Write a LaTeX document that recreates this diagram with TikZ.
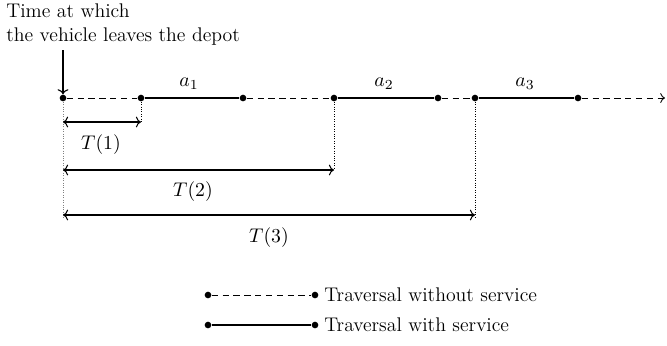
\documentclass[tikz,border=0pt]{standalone}
\usepackage{fix-cm}
\usetikzlibrary{arrows.meta}
\begin{document}
\begin{tikzpicture}[x=0.5714pt,y=-0.5714pt,
  font=\fontsize{11.3}{13.7}\selectfont,
  dot/.style={circle,fill,inner sep=0pt,minimum size=3.8pt},
  nosvc/.style={line width=0.5pt,dash pattern=on 3.6pt off 2.6pt},
  svc/.style={line width=0.7pt},
  guide/.style={densely dotted,line width=0.4pt},
  dim/.style={<->,line width=0.6pt},
  lbl/.style={inner sep=1pt}]
\useasboundingbox (0,0) rectangle (667,345);
% main line dots
\node[dot] (p0) at (63,98) {};
\node[dot] (p1) at (141,98) {};
\node[dot] (p2) at (243,98) {};
\node[dot] (p3) at (334,98) {};
\node[dot] (p4) at (438,98) {};
\node[dot] (p5) at (475,98) {};
\node[dot] (p6) at (578,98) {};
\coordinate (pend) at (665,98);
\draw[nosvc] (p0) -- (p1);
\draw[svc] (p1) -- (p2);
\draw[nosvc] (p2) -- (p3);
\draw[svc] (p3) -- (p4);
\draw[nosvc] (p4) -- (p5);
\draw[svc] (p5) -- (p6);
\draw[nosvc,->] (p6) -- (pend);
\node[lbl] (a1) at (189,84) {$a_1$};
\node[lbl] (a2) at (384,84) {$a_2$};
\node[lbl] (a3) at (525,84) {$a_3$};
% top text
\node[anchor=north west,align=left,inner sep=0pt] (txt) at (6,3) {Time at which\\the vehicle leaves the depot};
\coordinate (arrtop) at (63,50);
\draw[->,line width=0.6pt] (arrtop) -- (p0);
% guides
\coordinate (g0) at (63,217);
\coordinate (g1) at (141,122);
\coordinate (g3) at (334,170);
\coordinate (g5) at (475,217);
\draw[guide,gray] (p0) -- (g0);
\draw[guide] (p1) -- (g1);
\draw[guide] (p3) -- (g3);
\draw[guide] (p5) -- (g5);
% dimensions
\coordinate (d1a) at (63,122); \coordinate (d1b) at (141,122);
\coordinate (d2a) at (63,170); \coordinate (d2b) at (334,170);
\coordinate (d3a) at (63,215); \coordinate (d3b) at (475,215);
\draw[dim] (d1a) -- (d1b);
\draw[dim] (d2a) -- (d2b);
\draw[dim] (d3a) -- (d3b);
\node[lbl] (t1) at (101,145) {$T(1)$};
\node[lbl] (t2) at (193,192) {$T(2)$};
\node[lbl] (t3) at (269,238) {$T(3)$};
% legend
\node[dot] (l1a) at (208,295) {};
\node[dot] (l1b) at (315,295) {};
\node[dot] (l2a) at (208,325) {};
\node[dot] (l2b) at (315,325) {};
\draw[nosvc] (l1a) -- (l1b);
\draw[svc] (l2a) -- (l2b);
\node[anchor=west,inner sep=0pt] (lt1) at (324,295) {Traversal without service};
\node[anchor=west,inner sep=0pt] (lt2) at (324,325) {Traversal with service};
\end{tikzpicture}
\end{document}
